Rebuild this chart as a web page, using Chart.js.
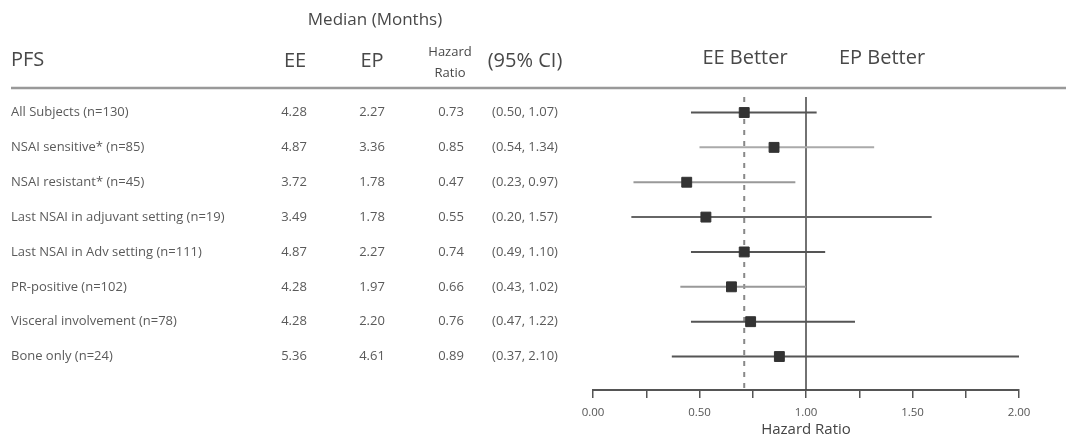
<!DOCTYPE html>
<html lang="en">
<head>
<meta charset="UTF-8">
<title>PFS forest plot</title>
<script src="https://cdn.jsdelivr.net/npm/chart.js"></script>
<style>
  html, body { margin: 0; padding: 0; background: #fff; }
  canvas { display: block; }
</style>
</head>
<body>
<canvas id="forest" width="1066" height="441"></canvas>
<script>
// table columns, top row first
const subgroups = ['All Subjects (n=130)', 'NSAI sensitive* (n=85)', 'NSAI resistant* (n=45)',
  'Last NSAI in adjuvant setting (n=19)', 'Last NSAI in Adv setting (n=111)', 'PR-positive (n=102)',
  'Visceral involvement (n=78)', 'Bone only (n=24)'];
const medianEE = ['4.28', '4.87', '3.72', '3.49', '4.87', '4.28', '4.28', '5.36'];
const medianEP = ['2.27', '3.36', '1.78', '1.78', '2.27', '1.97', '2.20', '4.61'];
const hrText = ['0.73', '0.85', '0.47', '0.55', '0.74', '0.66', '0.76', '0.89'];
const ciText = ['(0.50, 1.07)', '(0.54, 1.34)', '(0.23, 0.97)', '(0.20, 1.57)',
  '(0.49, 1.10)', '(0.43, 1.02)', '(0.47, 1.22)', '(0.37, 2.10)'];

// where the marks sit on the plot
const hrPoint = [0.71, 0.85, 0.44, 0.53, 0.71, 0.65, 0.74, 0.875];
const ciLow = [0.46, 0.50, 0.19, 0.18, 0.46, 0.41, 0.46, 0.37];
const ciHigh = [1.05, 1.32, 0.95, 1.59, 1.09, 1.00, 1.23, 2.00];
const ciColor = ['#555', '#aaa', '#999', '#666', '#555', '#999', '#555', '#555'];

const xTickLabels = ['0.00', '0.50', '1.00', '1.50', '2.00'];
const overallHR = 0.71;   // dashed line
const noEffect = 1;       // solid line

const yMin = -0.445, yMax = 7.96;
const FONT = '"Open Sans", "DejaVu Sans", sans-serif';

// CI whiskers, one dataset per row
const ciSets = subgroups.map((s, i) => ({
    label: s,
    data: [{ x: ciLow[i], y: i }, { x: ciHigh[i], y: i }],
    showLine: true,
    borderColor: ciColor[i],
    borderWidth: 2,
    pointRadius: 0,
    order: 1
}));

const tablePlugin = {
    id: 'table',
    afterDraw(chart) {
        const ctx = chart.ctx;
        const yScale = chart.scales.y;
        ctx.save();
        ctx.fillStyle = '#484848';
        ctx.textBaseline = 'alphabetic';
        ctx.textAlign = 'center';
        ctx.font = '17px ' + FONT;
        ctx.fillText('Median (Months)', 375, 25);
        ctx.textAlign = 'left';
        ctx.font = '20px ' + FONT;
        ctx.fillText('PFS', 11, 66);
        ctx.textAlign = 'center';
        ctx.font = '20px ' + FONT;
        ctx.fillText('EE', 295, 67);
        ctx.fillText('EP', 372, 67);
        ctx.fillText('(95% CI)', 525, 67);
        ctx.fillText('EE Better', 745, 64);
        ctx.fillText('EP Better', 882, 64);
        ctx.font = '13px ' + FONT;
        ctx.fillText('Hazard', 450, 56);
        ctx.fillText('Ratio', 450, 77);

        // header rule
        ctx.strokeStyle = '#999';
        ctx.lineWidth = 2.5;
        ctx.beginPath();
        ctx.moveTo(11, 88);
        ctx.lineTo(1066, 88);
        ctx.stroke();

        // rows
        ctx.font = '13px ' + FONT;
        ctx.fillStyle = '#5a5a5a';
        ctx.textBaseline = 'middle';
        subgroups.forEach((name, i) => {
            const py = yScale.getPixelForValue(i);
            ctx.textAlign = 'left';
            ctx.fillText(name, 11, py);
            ctx.textAlign = 'center';
            ctx.fillText(medianEE[i], 294, py);
            ctx.fillText(medianEP[i], 372, py);
            ctx.fillText(hrText[i], 451, py);
            ctx.fillText(ciText[i], 525, py);
        });
        ctx.restore();
    }
};

new Chart(document.getElementById('forest'), {
    type: 'scatter',
    data: {
        datasets: [
            {
                label: 'HR',
                data: hrPoint.map((v, i) => ({ x: v, y: i })),
                pointStyle: 'rect',
                pointRadius: 7,
                backgroundColor: '#333',
                borderColor: '#333',
                borderWidth: 1,
                order: 0
            },
            ...ciSets,
            {
                label: 'overall',
                data: [{ x: overallHR, y: yMin }, { x: overallHR, y: yMax }],
                showLine: true,
                borderColor: '#888',
                borderWidth: 2,
                borderDash: [5, 6],
                pointRadius: 0,
                order: 2
            },
            {
                label: 'no effect',
                data: [{ x: noEffect, y: yMin }, { x: noEffect, y: yMax }],
                showLine: true,
                borderColor: '#444',
                borderWidth: 1.5,
                pointRadius: 0,
                order: 2
            }
        ]
    },
    options: {
        responsive: false,
        animation: false,
        devicePixelRatio: 1,
        layout: { padding: { left: 593, right: 47, top: 97, bottom: 0 } },
        plugins: { legend: { display: false }, tooltip: { enabled: false } },
        scales: {
            x: {
                type: 'linear',
                min: 0,
                max: 2,
                afterFit: (scale) => { scale.height = 51; },
                ticks: {
                    stepSize: 0.25,
                    autoSkip: false,
                    maxRotation: 0,
                    padding: 8,
                    color: '#555',
                    font: { family: FONT, size: 11.5 },
                    callback: (v) => xTickLabels.includes(Number(v).toFixed(2)) ? Number(v).toFixed(2) : ''
                },
                grid: { drawOnChartArea: false, drawTicks: true, tickLength: 8, color: '#555', lineWidth: 1.5 },
                border: { display: true, color: '#555', width: 2 },
                title: {
                    display: true,
                    text: 'Hazard Ratio',
                    color: '#444',
                    font: { family: FONT, size: 15 },
                    padding: { top: 0, bottom: 2 }
                }
            },
            y: {
                type: 'linear',
                display: false,
                reverse: true,
                min: yMin,
                max: yMax
            }
        }
    },
    plugins: [tablePlugin]
});
</script>
</body>
</html>
